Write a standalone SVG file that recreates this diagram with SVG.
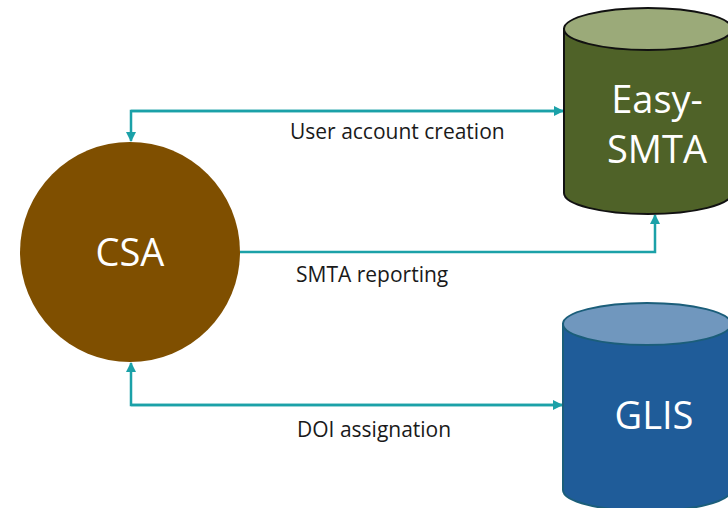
<svg xmlns="http://www.w3.org/2000/svg" width="728" height="508" viewBox="0 0 728 508">
<defs>
<marker id="ah" markerWidth="10" markerHeight="10" refX="9" refY="5" orient="auto" markerUnits="userSpaceOnUse" viewBox="0 0 10 10">
<path d="M0,0 L10,5 L0,10 Z" fill="#1BA1A8"/>
</marker>
<style>
.conn{fill:none;stroke:#1BA1A8;stroke-width:2.5}
.lbl{font-family:"Open Sans","Liberation Sans",sans-serif;font-size:21px;fill:#1a1a1a}
.big{font-family:"Open Sans","Liberation Sans",sans-serif;fill:#ffffff;text-anchor:middle}
</style>
</defs>
<rect width="728" height="508" fill="#ffffff"/>
<g id="connectors">
<path class="conn" d="M563,111 L131,111 L131,141" marker-end="url(#ah)"/>
<path class="conn" d="M131,111 L563,111" marker-end="url(#ah)"/>
<path class="conn" d="M240,252 L655,252 L655,215" marker-end="url(#ah)"/>
<path class="conn" d="M563,405 L131,405 L131,363" marker-end="url(#ah)"/>
<path class="conn" d="M131,405 L562,405" marker-end="url(#ah)"/>
<text class="lbl" x="290" y="139">User account creation</text>
<text class="lbl" x="296" y="282">SMTA reporting</text>
<text class="lbl" x="297" y="437">DOI assignation</text>
</g>
<g id="csa">
<circle cx="130" cy="252" r="110" fill="#7F4F00"/>
<text class="big" x="130" y="266" font-size="38">CSA</text>
</g>
<g id="easy-smta">
<path d="M564,29 L564,193 A84,21 0 0 0 732,193 L732,29 Z" fill="#4F6228" stroke="#111" stroke-width="2"/>
<ellipse cx="648" cy="29" rx="84" ry="21" fill="#9BAA79" stroke="#111" stroke-width="2"/>
<text class="big" x="657" y="113" font-size="38">Easy-</text>
<text class="big" x="657" y="163" font-size="38">SMTA</text>
</g>
<g id="glis">
<path d="M563,324 L563,490 A84,21 0 0 0 731,490 L731,324 Z" fill="#1F5C99" stroke="#1B5E7A" stroke-width="2"/>
<ellipse cx="647" cy="324" rx="84" ry="21" fill="#7097BE" stroke="#1B5E7A" stroke-width="2"/>
<text class="big" x="654" y="429" font-size="38">GLIS</text>
</g>
</svg>
